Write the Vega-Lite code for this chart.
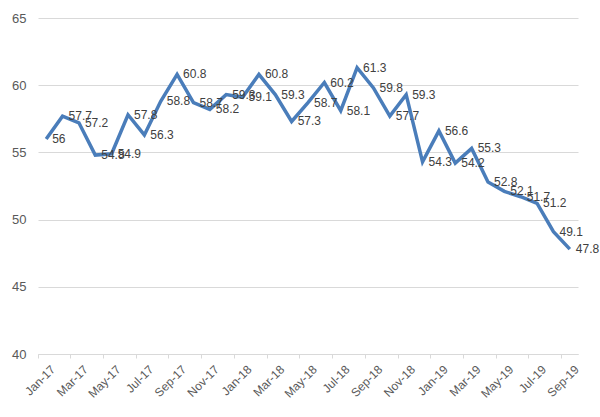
{
  "$schema": "https://vega.github.io/schema/vega-lite/v6.json",
  "width": 540,
  "height": 336,
  "autosize": {"type": "none"},
  "padding": {"left": 38, "top": 18, "right": 22, "bottom": 63},
  "background": "white",
  "config": {"view": {"stroke": null}, "font": "Liberation Sans"},
  "data": {"values": [
    {"m": "Jan-17", "v": 56}, {"m": "Feb-17", "v": 57.7}, {"m": "Mar-17", "v": 57.2}, {"m": "Apr-17", "v": 54.8},
    {"m": "May-17", "v": 54.9}, {"m": "Jun-17", "v": 57.8}, {"m": "Jul-17", "v": 56.3}, {"m": "Aug-17", "v": 58.8},
    {"m": "Sep-17", "v": 60.8}, {"m": "Oct-17", "v": 58.7}, {"m": "Nov-17", "v": 58.2}, {"m": "Dec-17", "v": 59.3},
    {"m": "Jan-18", "v": 59.1}, {"m": "Feb-18", "v": 60.8}, {"m": "Mar-18", "v": 59.3}, {"m": "Apr-18", "v": 57.3},
    {"m": "May-18", "v": 58.7}, {"m": "Jun-18", "v": 60.2}, {"m": "Jul-18", "v": 58.1}, {"m": "Aug-18", "v": 61.3},
    {"m": "Sep-18", "v": 59.8}, {"m": "Oct-18", "v": 57.7}, {"m": "Nov-18", "v": 59.3}, {"m": "Dec-18", "v": 54.3},
    {"m": "Jan-19", "v": 56.6}, {"m": "Feb-19", "v": 54.2}, {"m": "Mar-19", "v": 55.3}, {"m": "Apr-19", "v": 52.8},
    {"m": "May-19", "v": 52.1}, {"m": "Jun-19", "v": 51.7}, {"m": "Jul-19", "v": 51.2}, {"m": "Aug-19", "v": 49.1},
    {"m": "Sep-19", "v": 47.8}
  ]},
  "encoding": {
    "x": {
      "field": "m", "type": "ordinal", "sort": null,
      "scale": {"type": "band", "paddingInner": 0, "paddingOuter": 0},
      "axis": {
        "title": null,
        "values": ["Jan-17","Mar-17","May-17","Jul-17","Sep-17","Nov-17","Jan-18","Mar-18","May-18","Jul-18","Sep-18","Nov-18","Jan-19","Mar-19","May-19","Jul-19","Sep-19"],
        "bandPosition": 0,
        "labelAngle": -45,
        "labelAlign": "right",
        "labelBaseline": "middle",
        "labelOffset": 7,
        "labelPadding": 9,
        "labelFontSize": 12,
        "labelColor": "#595959",
        "domainColor": "#d9d9d9",
        "tickColor": "#d9d9d9",
        "tickSize": 4,
        "grid": false
      }
    },
    "y": {
      "field": "v", "type": "quantitative",
      "scale": {"domain": [40, 65], "nice": false, "zero": false},
      "axis": {
        "title": null,
        "values": [40, 45, 50, 55, 60, 65],
        "domain": false,
        "ticks": false,
        "labelPadding": 12,
        "labelFontSize": 13,
        "labelColor": "#595959",
        "gridColor": "#d9d9d9",
        "gridWidth": 1
      }
    }
  },
  "layer": [
    {"mark": {"type": "line", "color": "#4a7dba", "strokeWidth": 3.5, "strokeJoin": "miter"}},
    {"mark": {"type": "text", "align": "left", "baseline": "middle", "dx": 6, "fontSize": 12, "color": "#404040"},
     "encoding": {"text": {"field": "v", "type": "quantitative"}}}
  ]
}
